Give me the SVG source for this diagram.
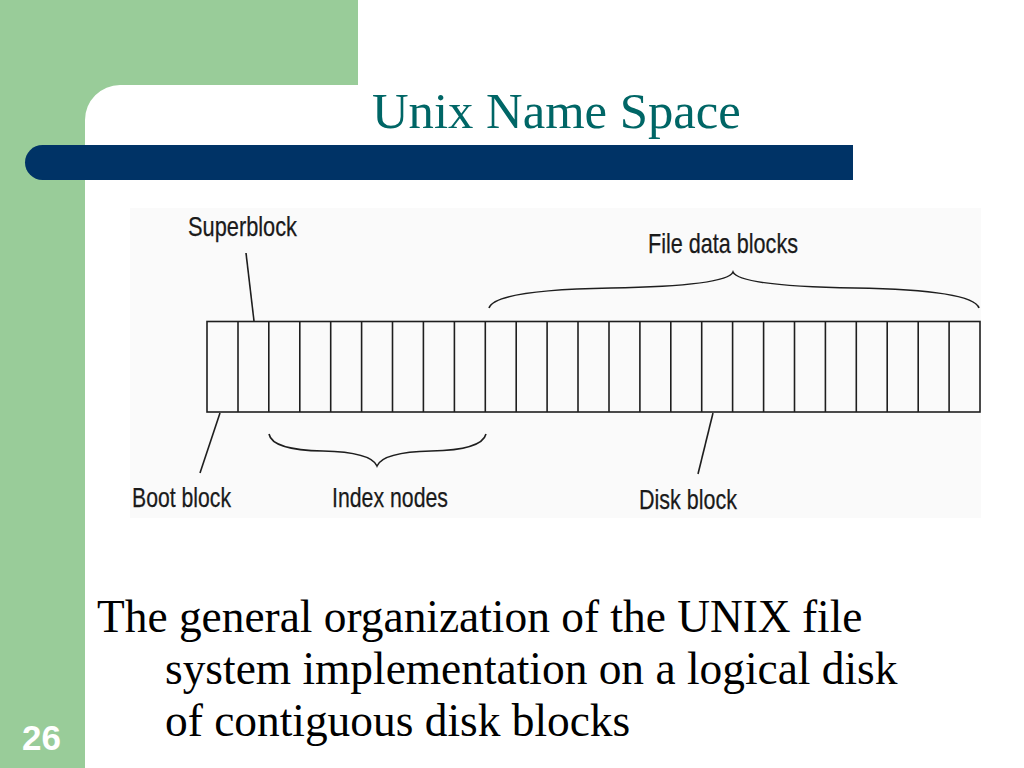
<svg xmlns="http://www.w3.org/2000/svg" width="1024" height="768" viewBox="0 0 1024 768">
<defs>
<style>
.lbl{font-family:"Liberation Sans",Arial,sans-serif;font-size:28px;fill:#1a1a1a;stroke:#1a1a1a;stroke-width:0.25}
.ln{stroke:#1e1e1e;stroke-width:1.6;fill:none}
.body{font-family:"Liberation Serif","Times New Roman",serif;font-size:45.4px;fill:#000}
</style>
</defs>
<rect width="1024" height="768" fill="#ffffff"/>
<g id="background">
<rect x="0" y="0" width="358" height="120" fill="#99cc99"/>
<rect x="0" y="0" width="85" height="768" fill="#99cc99"/>
<path d="M85,768 L85,120 A35,35 0 0 1 120,85 L358,85 L358,120 L1024,120 L1024,768 Z" fill="#ffffff"/>
<path d="M42.5,145 L853,145 L853,180 L42.5,180 A17.5,17.5 0 0 1 42.5,145 Z" fill="#003366"/>
</g>
<text id="title" x="372" y="128" font-family="'Liberation Serif','Times New Roman',serif" font-size="50.7" fill="#006666">Unix Name Space</text>
<g id="figure">
<rect x="130" y="208" width="851" height="310" fill="#fafafa"/>
</g>
<g id="disk">
<rect x="207" y="321.5" width="773" height="90.5" fill="none" stroke="#1e1e1e" stroke-width="1.6"/>
<g class="ln">
<line x1="238" y1="321.5" x2="238" y2="412"/>
<line x1="268.8" y1="321.5" x2="268.8" y2="412"/>
<line x1="299.8" y1="321.5" x2="299.8" y2="412"/>
<line x1="330.7" y1="321.5" x2="330.7" y2="412"/>
<line x1="361.6" y1="321.5" x2="361.6" y2="412"/>
<line x1="392.5" y1="321.5" x2="392.5" y2="412"/>
<line x1="423.4" y1="321.5" x2="423.4" y2="412"/>
<line x1="454.4" y1="321.5" x2="454.4" y2="412"/>
<line x1="485.3" y1="321.5" x2="485.3" y2="412"/>
<line x1="516.2" y1="321.5" x2="516.2" y2="412"/>
<line x1="547.1" y1="321.5" x2="547.1" y2="412"/>
<line x1="578" y1="321.5" x2="578" y2="412"/>
<line x1="609" y1="321.5" x2="609" y2="412"/>
<line x1="639.9" y1="321.5" x2="639.9" y2="412"/>
<line x1="670.8" y1="321.5" x2="670.8" y2="412"/>
<line x1="701.7" y1="321.5" x2="701.7" y2="412"/>
<line x1="732.6" y1="321.5" x2="732.6" y2="412"/>
<line x1="763.6" y1="321.5" x2="763.6" y2="412"/>
<line x1="794.5" y1="321.5" x2="794.5" y2="412"/>
<line x1="825.4" y1="321.5" x2="825.4" y2="412"/>
<line x1="856.3" y1="321.5" x2="856.3" y2="412"/>
<line x1="887.2" y1="321.5" x2="887.2" y2="412"/>
<line x1="918.2" y1="321.5" x2="918.2" y2="412"/>
<line x1="949.1" y1="321.5" x2="949.1" y2="412"/>
</g>
</g>
<g id="connectors" class="ln">
<line x1="246" y1="253" x2="254" y2="321"/>
<line x1="220" y1="413" x2="200" y2="473"/>
<line x1="713" y1="413" x2="698" y2="474"/>
<path d="M269,434 Q272,450 323,451 Q371,452 377,466 Q383,452 431,451 Q482,450 486,434"/>
<path d="M489,308 Q495,290 611,288 Q727,286 733,272 Q739,286 855,288 Q973,290 979,308"/>
</g>
<g id="labels">
<text class="lbl" x="188" y="236" textLength="109" lengthAdjust="spacingAndGlyphs">Superblock</text>
<text class="lbl" x="648" y="253" textLength="150" lengthAdjust="spacingAndGlyphs">File data blocks</text>
<text class="lbl" x="132" y="507" textLength="99" lengthAdjust="spacingAndGlyphs">Boot block</text>
<text class="lbl" x="332" y="507" textLength="116" lengthAdjust="spacingAndGlyphs">Index nodes</text>
<text class="lbl" x="639" y="509" textLength="98" lengthAdjust="spacingAndGlyphs">Disk block</text>
</g>
<g id="caption">
<text class="body" x="97" y="632">The general organization of the UNIX file</text>
<text class="body" x="165" y="684">system implementation on a logical disk</text>
<text class="body" x="165" y="736">of contiguous disk blocks</text>
</g>
<text id="page" x="22" y="750" font-family="'Liberation Sans',Arial,sans-serif" font-weight="bold" font-size="35" fill="#ffffff">26</text>
</svg>
